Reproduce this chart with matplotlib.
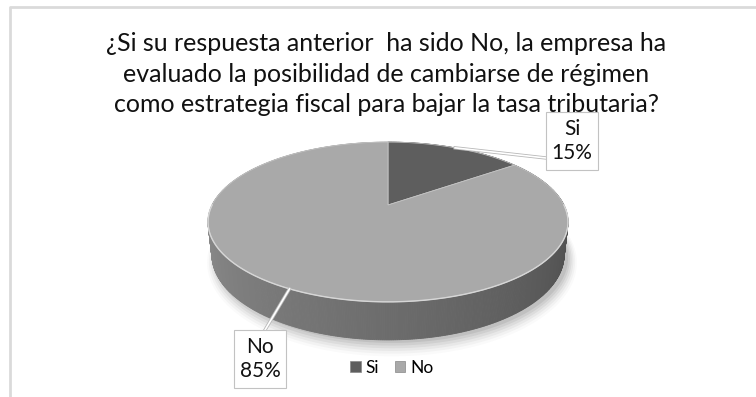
import numpy as np
import matplotlib
matplotlib.use('Agg')
import matplotlib.pyplot as plt
from matplotlib.patches import Polygon, Patch, Rectangle
import matplotlib.patheffects as pe

plt.rcParams['font.family'] = ['Lato', 'DejaVu Sans']

respuestas = ['Si', 'No']
porcentajes = [15, 85]
colores = ['#5e5e5e', '#a9a9a9']
titulo = ('¿Si su respuesta anterior  ha sido No, la empresa ha\n'
          'evaluado la posibilidad de cambiarse de régimen\n'
          'como estrategia fiscal para bajar la tasa tributaria?')

# centro de las etiquetas de datos (px)
pos_etiquetas = [(572, 141), (260, 359)]

# pastel 3D en perspectiva (coordenadas en pixeles)
CX, CY = 388, 205
INCL = np.radians(25.7)
DIST = 4.24
FOCAL = 745.8
ALTO = 0.207


def proyectar(t, z=0.0):
    X, Y = np.cos(t), np.sin(t)
    s, c = np.sin(INCL), np.cos(INCL)
    v = Y * s + z * c
    w = DIST + Y * c - z * s
    return CX + FOCAL * X / w, CY - FOCAL * v / w


fig = plt.figure(figsize=(7.56, 3.97), dpi=100)
ax = fig.add_axes([0, 0, 1, 1])
ax.set_xlim(0, 756)
ax.set_ylim(397, 0)
ax.axis('off')

# marco del area del grafico
ax.plot([10, 10, 756], [397, 7, 7], color='#dadada', lw=2, solid_capstyle='butt')

# angulos de cada porcion (sentido horario desde las 12)
fracs = np.array(porcentajes) / sum(porcentajes)
limites = np.radians(90) - 2 * np.pi * np.concatenate([[0], np.cumsum(fracs)])

# sombra suave
tt = np.linspace(0, 2 * np.pi, 200)
for k, a in zip(np.linspace(1.05, 1.0, 6), [0.02, 0.03, 0.04, 0.05, 0.06, 0.07]):
    bx, by = proyectar(tt, -ALTO)
    ax.fill(CX + 4 + (bx - CX) * k, by + 3 + (by - CY) * (k - 1) * 2, color='black', alpha=a, lw=0, zorder=1)

# pared lateral, de atras hacia adelante
n = 720
ts = np.linspace(limites[-1], limites[0], n + 1)
quads = []
for i in range(n):
    t0, t1 = ts[i], ts[i + 1]
    tm = 0.5 * (t0 + t1)
    idx = np.searchsorted(-limites, -tm) - 1
    idx = min(max(idx, 0), len(respuestas) - 1)
    ang = np.degrees(tm) % 360
    if 180 <= ang <= 360:
        f = (ang - 180) / 180
    else:
        f = 0.0 if ang > 90 else 1.0
    g = 0.56 - 0.27 * f
    if idx == 0:
        g -= 0.12
    x0, y0 = proyectar(t0)
    x1, y1 = proyectar(t1)
    x2, y2 = proyectar(t1, -ALTO)
    x3, y3 = proyectar(t0, -ALTO)
    quads.append((np.sin(tm), [(x0, y0), (x1, y1), (x2, y2), (x3, y3)], (g, g, g)))
quads.sort(key=lambda q: -q[0])
for j, (_, pts, col) in enumerate(quads):
    ax.add_patch(Polygon(pts, closed=True, fc=col, ec=col, lw=0.6, zorder=2 + j * 1e-4))

# tapa superior
for i, col in enumerate(colores):
    t = np.linspace(limites[i], limites[i + 1], 200)
    px, py = proyectar(t)
    pts = [(CX, CY)] + list(zip(px, py))
    ax.add_patch(Polygon(pts, closed=True, fc=col, ec='#c4c4c4', lw=0.6, zorder=3))

# brillo del borde frontal
t = np.linspace(np.radians(180), np.radians(360), 200)
px, py = proyectar(t)
ax.plot(px, py, color='#d6d6d6', lw=1.0, zorder=3.5)

ax.text(386, 74, titulo, ha='center', va='center', fontsize=18,
        linespacing=1.38, color='#111111', zorder=5)

# etiquetas con lineas guia
borde = [pe.Stroke(linewidth=2.4, foreground='#b8b8b8'), pe.Normal()]
for i, (r, p) in enumerate(zip(respuestas, porcentajes)):
    tm = 0.5 * (limites[i] + limites[i + 1])
    ex, ey = proyectar(tm)
    lx, ly = pos_etiquetas[i]
    if i == 0:
        destino = (lx - 26, ly + 17)
    else:
        destino = (lx + 5, ly - 29)
    ax.plot([ex, destino[0]], [ey, destino[1]], color='white', lw=1.2,
            path_effects=borde, zorder=4)
    ax.add_patch(Rectangle((lx - 26, ly - 29), 52, 58, fc='white', ec='#c2c2c2',
                           lw=0.8, zorder=4.5))
    ax.text(lx, ly, f'{r}\n{p}%', ha='center', va='center', fontsize=15,
            linespacing=1.2, color='#111111', zorder=5)

handles = [Patch(fc=c, ec='#888888', lw=0.5) for c in colores]
fig.legend(handles, respuestas, loc='center', bbox_to_anchor=(392 / 756, 1 - 368 / 397),
           ncol=2, frameon=False, fontsize=12.5, handlelength=0.6, handleheight=0.6,
           handletextpad=0.3, columnspacing=0.9)

fig.savefig('out.png', dpi=100)
